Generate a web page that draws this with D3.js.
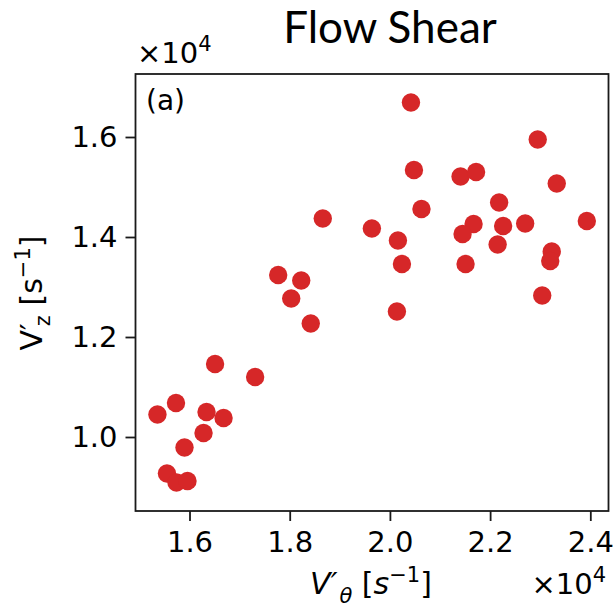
<!DOCTYPE html>
<html>
<head>
<meta charset="utf-8">
<script src="https://cdn.jsdelivr.net/npm/d3@7"></script>
<style>
  body { margin: 0; background: #fff; }
  svg { display: block; }
  .tick text { font-family: "DejaVu Sans", sans-serif; font-size: 29px; fill: #000; }
</style>
</head>
<body>
<svg id="chart" width="613" height="610"></svg>
<script>
// values in units of 10^4 s^-1
const vTheta = [2.042, 2.295, 2.048, 2.141, 2.172, 2.333, 2.218, 2.063, 1.964, 2.167,
                2.145, 2.226, 2.270, 2.393, 2.016, 2.215, 2.323, 2.320, 2.024, 2.151,
                2.304, 1.866, 1.777, 1.823, 1.803, 1.842, 1.651, 1.731, 1.536, 1.573,
                1.634, 1.668, 1.628, 1.590, 1.555, 1.574, 1.596, 2.014];
const vZ =     [1.669, 1.595, 1.534, 1.521, 1.530, 1.507, 1.469, 1.456, 1.417, 1.426,
                1.406, 1.422, 1.427, 1.432, 1.393, 1.385, 1.371, 1.352, 1.346, 1.346,
                1.283, 1.437, 1.324, 1.313, 1.277, 1.227, 1.146, 1.120, 1.045, 1.068,
                1.050, 1.038, 1.008, 0.979, 0.927, 0.909, 0.912, 1.251];
const xTicks = [1.6, 1.8, 2.0, 2.2, 2.4];
const yTicks = [1.0, 1.2, 1.4, 1.6];

const svg = d3.select("#chart");
const plotL = 135.5, plotR = 608.5, plotT = 74, plotB = 511;

const x = d3.scaleLinear().domain([1.4922, 2.4363]).range([plotL, plotR]);
const y = d3.scaleLinear().domain([0.852, 1.726]).range([plotB, plotT]);

// points first, frame on top
svg.append("g")
  .selectAll("circle")
  .data(d3.range(vTheta.length))
  .join("circle")
  .attr("cx", i => x(vTheta[i]))
  .attr("cy", i => y(vZ[i]))
  .attr("r", 9.2)
  .attr("fill", "#d62728");

svg.append("rect")
  .attr("x", plotL).attr("y", plotT)
  .attr("width", plotR - plotL).attr("height", plotB - plotT)
  .attr("fill", "none").attr("stroke", "#1a1a1a").attr("stroke-width", 1.8);

const xAxis = svg.append("g")
  .attr("transform", `translate(0,${plotB})`)
  .call(d3.axisBottom(x).tickValues(xTicks).tickFormat(d3.format(".1f")).tickSize(10).tickPadding(8));
const yAxis = svg.append("g")
  .attr("transform", `translate(${plotL},0)`)
  .call(d3.axisLeft(y).tickValues(yTicks).tickFormat(d3.format(".1f")).tickSize(10).tickPadding(8));
[xAxis, yAxis].forEach(a => {
  a.select(".domain").remove();
  a.selectAll(".tick line").attr("stroke", "#1a1a1a").attr("stroke-width", 1.8);
});
xAxis.selectAll(".tick text").attr("dy", "0.78em");

const font = "DejaVu Sans, sans-serif";

// title
svg.append("text")
  .attr("x", 390).attr("y", 43)
  .attr("text-anchor", "middle")
  .style("font-family", "Lato, sans-serif").style("font-size", "44px")
  .text("Flow Shear");

// panel tag
svg.append("text")
  .attr("x", 146).attr("y", 110)
  .style("font-family", font).style("font-size", "28px")
  .text("(a)");

// offset labels
function offsetLabel(xp, yp, anchor) {
  const t = svg.append("text")
    .attr("x", xp).attr("y", yp).attr("text-anchor", anchor)
    .style("font-family", font).style("font-size", "29px");
  t.append("tspan").text("×10");
  t.append("tspan").attr("dy", -12).style("font-size", "21px").text("4");
}
offsetLabel(137, 63, "start");
offsetLabel(606, 594, "end");

// x label
const xl = svg.append("text")
  .attr("x", 371).attr("y", 594).attr("text-anchor", "middle")
  .style("font-family", font).style("font-size", "30px");
xl.append("tspan").style("font-style", "italic").text("V′");
xl.append("tspan").attr("dy", 9).attr("dx", 2).style("font-size", "21px").style("font-style", "italic").text("θ");
xl.append("tspan").attr("dy", -9).text(" [");
xl.append("tspan").style("font-style", "italic").text("s");
xl.append("tspan").attr("dy", -12).style("font-size", "21px").text("−1");
xl.append("tspan").attr("dy", 12).text("]");

// y label
const yl = svg.append("text")
  .attr("transform", "translate(42,293) rotate(-90)")
  .attr("text-anchor", "middle")
  .style("font-family", font).style("font-size", "30px");
yl.append("tspan").text("V′");
yl.append("tspan").attr("dy", 8).attr("dx", -3).style("font-size", "21px").text("z");
yl.append("tspan").attr("dy", -8).text(" [s");
yl.append("tspan").attr("dy", -12).style("font-size", "21px").text("−1");
yl.append("tspan").attr("dy", 12).text("]");
</script>
</body>
</html>
